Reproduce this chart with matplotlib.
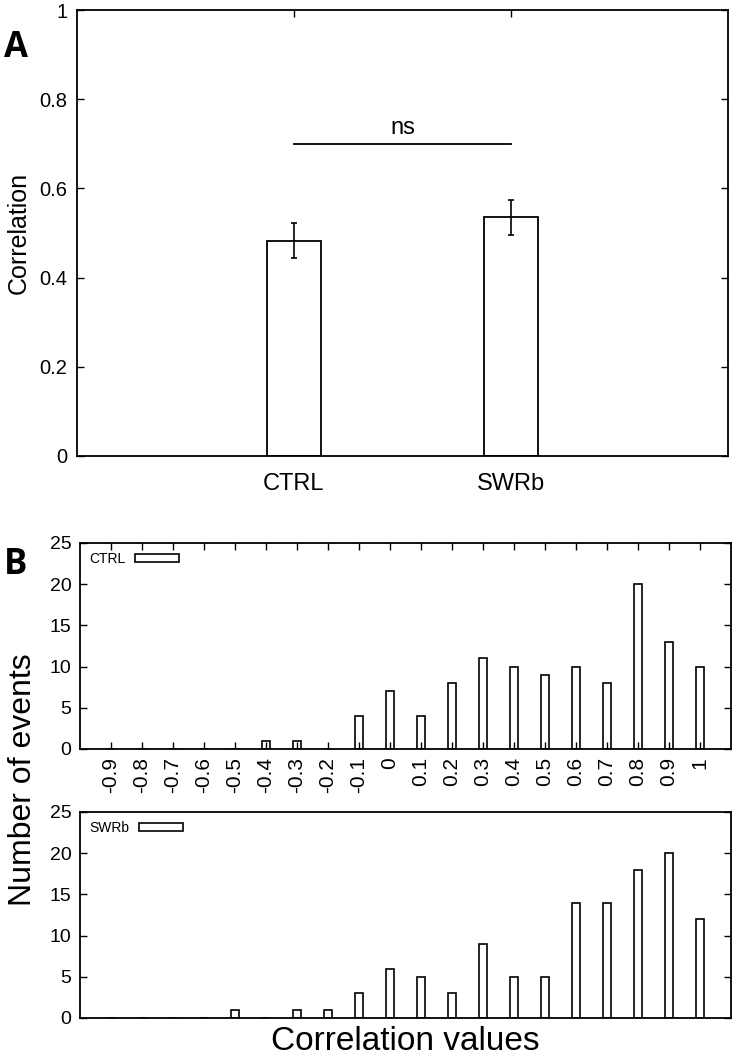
import numpy as np
import matplotlib
matplotlib.use("Agg")
import matplotlib.pyplot as plt
from matplotlib import font_manager

# pick a condensed font if one is installed
names = {f.name for f in font_manager.fontManager.ttflist}
narrow = "Liberation Sans Narrow" if "Liberation Sans Narrow" in names else "Liberation Sans"
plt.rcParams["font.family"] = [narrow, "DejaVu Sans"]

# Panel A data
groups = ["CTRL", "SWRb"]
mean_corr = [0.483, 0.535]
sem_corr = [0.039, 0.040]

# Panel B data (histogram counts per correlation bin)
bins = [-0.9, -0.8, -0.7, -0.6, -0.5, -0.4, -0.3, -0.2, -0.1, 0.0,
        0.1, 0.2, 0.3, 0.4, 0.5, 0.6, 0.7, 0.8, 0.9, 1.0]
bin_labels = ["-0.9", "-0.8", "-0.7", "-0.6", "-0.5", "-0.4", "-0.3", "-0.2", "-0.1", "0",
              "0.1", "0.2", "0.3", "0.4", "0.5", "0.6", "0.7", "0.8", "0.9", "1"]
ctrl_counts = [0, 0, 0, 0, 0, 1, 1, 0, 4, 7, 4, 8, 11, 10, 9, 10, 8, 20, 13, 10]
swrb_counts = [0, 0, 0, 0, 1, 0, 1, 1, 3, 6, 5, 3, 9, 5, 5, 14, 14, 18, 20, 12]

fig = plt.figure(figsize=(7.33, 10.57), dpi=100)

# ---- Panel A ----
axA = fig.add_axes([0.105, 0.5686, 0.888, 0.4219])
xpos = np.arange(1, len(groups) + 1)
axA.bar(xpos, mean_corr, width=0.25, color="white", edgecolor="black", linewidth=1.3, zorder=2)
axA.errorbar(xpos, mean_corr, yerr=sem_corr, fmt="none", ecolor="black",
             elinewidth=1.2, capsize=2.5, capthick=1.2, zorder=3)
axA.plot([1, 2], [0.7, 0.7], color="black", lw=1.3)
axA.text(1.5, 0.71, "ns", ha="center", va="bottom", fontsize=17)
axA.set_xlim(0, 3)
axA.set_ylim(0, 1)
axA.set_xticks(xpos)
axA.set_xticklabels(groups, fontsize=17)
axA.set_yticks([0, 0.2, 0.4, 0.6, 0.8, 1])
axA.set_yticklabels(["0", "0.2", "0.4", "0.6", "0.8", "1"], fontsize=14.5)
axA.tick_params(direction="in", top=True, right=True, length=5, width=1)
axA.tick_params(axis="x", pad=12)
axA.tick_params(axis="y", pad=7)
axA.set_ylabel("Correlation", fontsize=18, labelpad=6)
for s in axA.spines.values():
    s.set_linewidth(1.3)
fig.text(0.005, 1 - 57 / 1057, "A", fontsize=25, fontweight="bold", family="Open Sans", va="baseline")


def hist_panel(ax, counts, name, show_labels):
    b = ax.bar(bins, counts, width=0.025, color="white", edgecolor="black", linewidth=1.2)
    ax.set_xlim(-1.0, 1.1)
    ax.set_ylim(0, 25)
    ax.set_yticks([0, 5, 10, 15, 20, 25])
    ax.tick_params(axis="y", direction="in", right=True, length=5, width=1, labelsize=14, pad=6)
    if show_labels:
        ax.set_xticks(bins)
        ax.set_xticklabels(bin_labels, rotation=90, fontsize=15)
        ax.tick_params(axis="x", direction="in", top=True, bottom=True, length=5, width=1, pad=6)
    else:
        ax.set_xticks([])
    for s in ax.spines.values():
        s.set_linewidth(1.3)
    ax.legend([b], [name], loc="upper left", fontsize=10, frameon=False,
              handlelength=3.2, handleheight=0.58, handletextpad=0.7,
              borderaxespad=0.35, borderpad=0.3, markerfirst=False)


axB1 = fig.add_axes([0.109, 0.2914, 0.888, 0.1949])
hist_panel(axB1, ctrl_counts, "CTRL", True)
axB2 = fig.add_axes([0.109, 0.0369, 0.888, 0.1949])
hist_panel(axB2, swrb_counts, "SWRb", False)

fig.text(0.032, 0.262, "Number of events", rotation=90, fontsize=23, ha="center", va="center",
         family=["Liberation Sans", "DejaVu Sans"])
fig.text(0.553, 0.015, "Correlation values", fontsize=24, ha="center", va="center",
         family=["Liberation Sans", "DejaVu Sans"])
fig.text(0.005, 1 - 574 / 1057, "B", fontsize=25, fontweight="bold", family="Open Sans", va="baseline")

fig.savefig("out.png", dpi=100)
